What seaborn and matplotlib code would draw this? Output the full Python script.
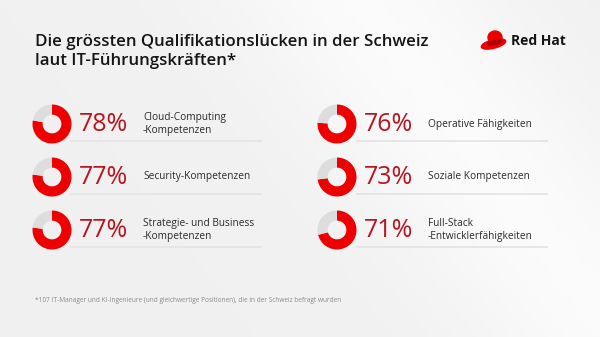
import numpy as np
import matplotlib
matplotlib.use("Agg")
import matplotlib.pyplot as plt
from matplotlib.patches import Ellipse
import seaborn as sns

# Survey results: share of IT leaders naming each skill gap
skills_left = ["Cloud-Computing\n-Kompetenzen", "Security-Kompetenzen",
               "Strategie- und Business\n-Kompetenzen"]
values_left = [78, 77, 77]
skills_right = ["Operative Fähigkeiten", "Soziale Kompetenzen",
                "Full-Stack\n-Entwicklerfähigkeiten"]
values_right = [76, 73, 71]

title = "Die grössten Qualifikationslücken in der Schweiz\nlaut IT-Führungskräften*"
footnote = ("*107 IT-Manager und KI-Ingenieure (und gleichwertige Positionen), "
            "die in der Schweiz befragt wurden")

RED = "#ee0000"
TXT_RED = "#b8141f"
GREY = "#dddddd"

sns.set_theme(style="white")
plt.rcParams["font.family"] = ["Open Sans", "DejaVu Sans"]

W, H = 600, 337
fig = plt.figure(figsize=(W / 100, H / 100), dpi=100)
ax = fig.add_axes([0, 0, 1, 1])
ax.set_xlim(0, W)
ax.set_ylim(H, 0)
ax.axis("off")

# soft light-grey backdrop with a diagonal sheen
yy, xx = np.mgrid[0:H:4, 0:W:4]
t = (xx / W * 0.7 + (1 - yy / H) * 0.3)
bg = 0.945 + 0.04 * np.exp(-((t - 0.72) ** 2) / 0.03)
ax.imshow(np.dstack([bg, bg, bg]), extent=[0, W, H, 0], zorder=0,
          interpolation="bicubic", aspect="auto")

ax.text(35, 65, title, fontsize=12.2, fontweight="semibold", color="#151515",
        va="baseline", linespacing=1.22, zorder=3)
ax.text(35, 301, footnote, fontsize=4.7, color="#8a8a8a", va="center", zorder=3)

# logo: red hat (crown + tilted brim) and wordmark
brim = Ellipse((493.5, 44), 25, 8.5, angle=-14, color=RED, zorder=2.9)
crown = Ellipse((495, 37.5), 14, 13, angle=0, color=RED, zorder=3)
band = Ellipse((494.5, 42.5), 15, 4, angle=-14, color="#b00000", zorder=3.1)
ax.add_patch(brim)
ax.add_patch(crown)
ax.add_patch(band)
ax.text(511, 41, "Red Hat", fontsize=10, fontweight="bold", color="#151515",
        va="center", zorder=3)


def draw_row(cx, cy, value, label, line_x0, line_x1):
    r = 19.5
    dax = fig.add_axes([(cx - r) / W, 1 - (cy + r) / H, 2 * r / W, 2 * r / H])
    dax.pie([value, 100 - value], colors=[RED, GREY], startangle=90,
            counterclock=False, radius=1,
            wedgeprops=dict(width=0.52, linewidth=0))
    dax.set_xlim(-1, 1)
    dax.set_ylim(-1, 1)
    dax.set_aspect("equal")
    dax.axis("off")
    ax.text(cx + 27, cy + 0.5, f"{value}%", fontsize=18, color=TXT_RED,
            va="center", ha="left", zorder=3)
    ax.text(cx + 91, cy, label, fontsize=7.3, color="#2a2a2a", va="center",
            ha="left", linespacing=1.25, zorder=3)
    ax.plot([line_x0, line_x1], [cy + 17, cy + 17], color="#e4e4e4", lw=1.3,
            solid_capstyle="butt", zorder=2)


row_y = [124, 177, 230]
for cy, v, s in zip(row_y, values_left, skills_left):
    draw_row(52, cy, v, s, 70, 262)
for cy, v, s in zip(row_y, values_right, skills_right):
    draw_row(337, cy, v, s, 356, 548)

fig.savefig("out.png", dpi=100)
